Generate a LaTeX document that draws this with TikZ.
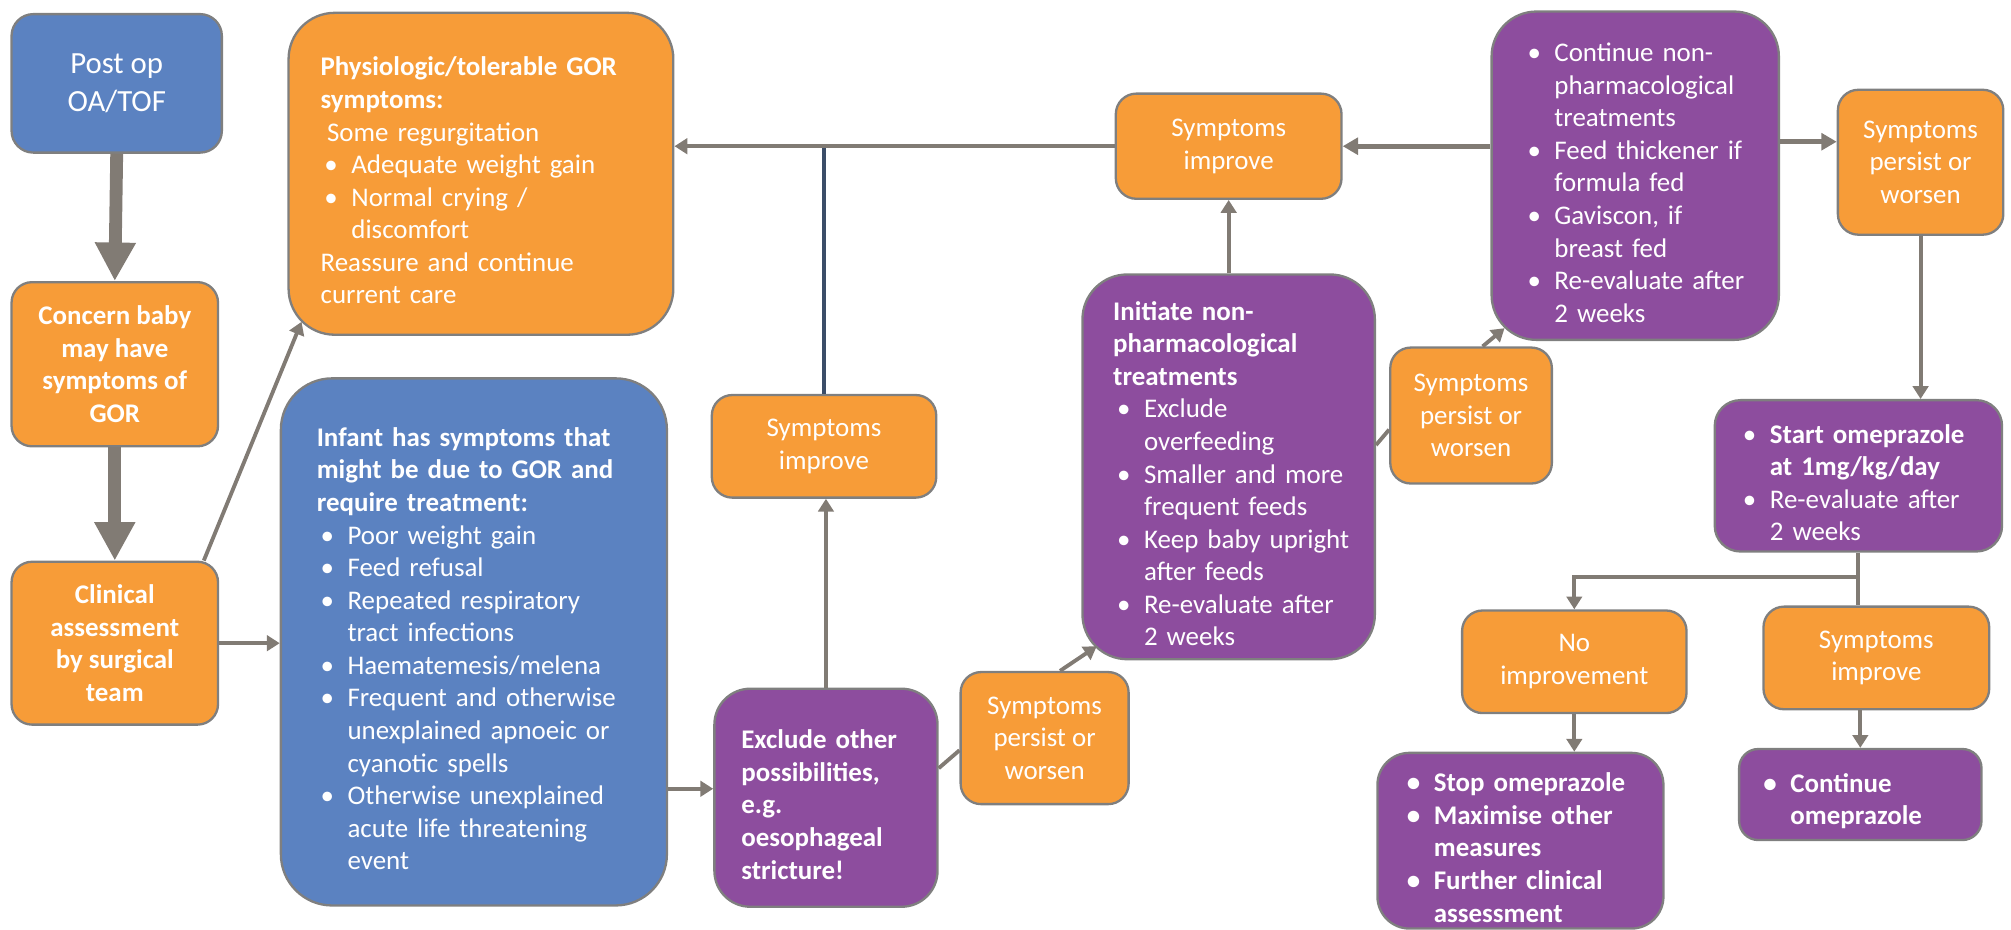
\documentclass[tikz,border=0pt]{standalone}
\usepackage{fontspec}
\setmainfont{Carlito}
\usepackage{xcolor}
\usetikzlibrary{arrows.meta,calc}
\definecolor{gorange}{HTML}{F79C38}
\definecolor{gblue}{HTML}{5B82C1}
\definecolor{gpurple}{HTML}{8D4D9E}
\definecolor{boxgray}{HTML}{7F7F7F}
\definecolor{arrowgray}{HTML}{817B74}
\definecolor{navyline}{HTML}{3B4D68}
\newcommand{\boxfont}{\fontsize{21}{25.4}\selectfont}
\newcommand{\postfont}{\fontsize{24}{29.5}\selectfont}
\newlength{\bulw}\setlength{\bulw}{24pt}
\newcommand{\txtline}[1]{\par\noindent\mbox{#1}}
\newcommand{\bitem}[1]{\par\noindent\makebox[\bulw][l]{\hspace{3pt}\textbullet}\mbox{#1}}
\newcommand{\bcont}[1]{\par\noindent\hspace*{\bulw}\mbox{#1}}
\tikzstyle{flowbox}=[draw=boxgray, line width=1.8pt, text=white, inner sep=3pt, font=\boxfont]
\tikzstyle{orangebox}=[flowbox, fill=gorange, rounded corners=16pt, align=center]
\tikzstyle{bluebox}=[flowbox, fill=gblue]
\tikzstyle{purplebox}=[flowbox, fill=gpurple]
\tikzstyle{listbox}=[align=left, inner ysep=0pt]
\tikzstyle{arr}=[draw=arrowgray, line width=3pt, -{Triangle[length=10pt,width=12pt]}]
\tikzstyle{widearr}=[draw=arrowgray, line width=4pt, -{Triangle[length=12pt,width=13pt]}]
\tikzstyle{bigarr}=[draw=arrowgray, line width=10pt, -{Triangle[length=30pt,width=30pt]}]
\tikzstyle{plain}=[draw=arrowgray, line width=3pt]

\begin{document}
\begin{tikzpicture}[x=1pt, y=-1pt]
\useasboundingbox (0,0) rectangle (1568,725);

% left column
\node[bluebox, align=center, rounded corners=17pt, font=\postfont, minimum width=164pt, minimum height=108pt] (post) at (91,65) {Post op\\OA/TOF};
\node[orangebox, font=\boxfont\bfseries, minimum width=161pt, minimum height=128pt] (concern) at (89.5,284) {Concern baby\\may have\\symptoms of\\GOR};
\node[orangebox, font=\boxfont\bfseries, minimum width=161pt, minimum height=127pt] (clinical) at (89.5,501.5) {Clinical\\assessment\\by surgical\\team};

% small orange boxes
\foreach \n/\x/\y/\w/\h/\t in {
	symimp1/642.5/348/175/80/{Symptoms\\improve},
	persist1/814.5/575.5/131/103/{Symptoms\\persist or\\worsen},
	symimp2/958/114/176/82/{Symptoms\\improve},
	persist2/1147/324/126/106/{Symptoms\\persist or\\worsen},
	persist3/1497.5/126.5/129/113/{Symptoms\\persist or\\worsen},
	noimp/1227.5/516/175/80/{No\\improvement},
	symimp3/1463/513/176/80/{Symptoms\\improve}}{
	\node[orangebox, minimum width=\w pt, minimum height=\h pt] (\n) at (\x,\y) {\t};
	}

% boxes with lists
\node[orangebox, listbox, rounded corners=36pt, minimum height=251pt, text width=250pt, inner xsep=25pt] (physio) at (375,135.5) {%
	\txtline{\bfseries Physiologic/tolerable GOR}
	\txtline{\bfseries symptoms:}
	\txtline{\hspace*{5pt}Some regurgitation}
	\bitem{Adequate weight gain}
	\bitem{Normal crying /}
	\bcont{discomfort}
	\txtline{Reassure and continue}
	\txtline{current care}};
\node[bluebox, listbox, rounded corners=40pt, minimum height=411pt, text width=245pt, inner xsep=28pt] (infant) at (369.5,500.5) {%
	\txtline{\bfseries Infant has symptoms that}
	\txtline{\bfseries might be due to GOR and}
	\txtline{\bfseries require treatment:}
	\bitem{Poor weight gain}
	\bitem{Feed refusal}
	\bitem{Repeated respiratory}
	\bcont{tract infections}
	\bitem{Haematemesis/melena}
	\bitem{Frequent and otherwise}
	\bcont{unexplained apnoeic or}
	\bcont{cyanotic spells}
	\bitem{Otherwise unexplained}
	\bcont{acute life threatening}
	\bcont{event}};
\node[purplebox, listbox, font=\boxfont\bfseries, rounded corners=28pt, minimum height=170pt, text width=132pt, inner xsep=21pt] (exclude) at (644,622) {%
	\txtline{Exclude other}
	\txtline{possibilities,}
	\txtline{e.g.}
	\txtline{oesophageal}
	\txtline{stricture!}};
\node[purplebox, listbox, rounded corners=35pt, minimum height=300pt, text width=180pt, inner xsep=24pt] (initiate) at (958,364) {%
	\txtline{\bfseries Initiate non-}
	\txtline{\bfseries pharmacological}
	\txtline{\bfseries treatments}
	\bitem{Exclude}
	\bcont{overfeeding}
	\bitem{Smaller and more}
	\bcont{frequent feeds}
	\bitem{Keep baby upright}
	\bcont{after feeds}
	\bitem{Re-evaluate after}
	\bcont{2 weeks}};
\node[purplebox, listbox, rounded corners=35pt, minimum height=256pt, text width=174pt, inner xsep=25pt] (cont) at (1275,137) {%
	\bitem{Continue non-}
	\bcont{pharmacological}
	\bcont{treatments}
	\bitem{Feed thickener if}
	\bcont{formula fed}
	\bitem{Gaviscon, if}
	\bcont{breast fed}
	\bitem{Re-evaluate after}
	\bcont{2 weeks}};
\node[purplebox, listbox, rounded corners=20pt, minimum height=118pt, text width=186pt, inner xsep=19pt] (omep) at (1449,371) {%
	\bitem{\bfseries Start omeprazole}
	\bcont{\bfseries at 1mg/kg/day}
	\bitem{Re-evaluate after}
	\bcont{2 weeks}};
\node[purplebox, listbox, font=\boxfont\bfseries, rounded corners=25pt, minimum height=137pt, text width=183pt, inner xsep=20pt] (stop) at (1185.5,655.5) {%
	\bitem{Stop omeprazole}
	\bitem{Maximise other}
	\bcont{measures}
	\bitem{Further clinical}
	\bcont{assessment}};
\node[purplebox, listbox, font=\boxfont\bfseries, rounded corners=15pt, minimum height=71pt, text width=157pt, inner xsep=16pt] (contomep) at (1450.5,619.5) {%
	\bitem{Continue}
	\bcont{omeprazole}};

% connectors
\draw[bigarr] (post.south) -- (concern.north);
\draw[bigarr] (concern.south) -- (clinical.north);
\draw[arr] ($(clinical.north east)+(-12,0)$) -- ($(physio.south west)+(11,-11)$);
\draw[arr] (clinical.east) -- (clinical.east -| infant.west);
\coordinate (exin) at ($(exclude.west)+(0,-7)$);
\draw[arr] (exin -| infant.east) -- (exin);
\draw[arr] (exclude.north) -- (exclude.north |- symimp1.south);
\draw[navyline, line width=2.5pt] (symimp1.north) -- (symimp1.north |- symimp2.west);
\draw[arr] (symimp2.west) -- (symimp2.west -| physio.east);
\draw[plain] ($(exclude.east)+(0,-23)$) -- ($(persist1.west)+(0,9.5)$);
\draw[arr] ($(persist1.north)+(12,0)$) -- ($(initiate.south west)+(12,-11)$);
\draw[arr] (initiate.north) -- (symimp2.south);
\draw[plain] ($(initiate.east)+(0,-17)$) -- ($(persist2.west)+(0,11)$);
\draw[arr] ($(persist2.north)+(9,0)$) -- ($(cont.south west)+(11,-10)$);
\draw[widearr] (cont.west |- symimp2.east) -- (symimp2.east);
\coordinate (pin) at ($(persist3.west)+(0,-16)$);
\draw[widearr] (pin -| cont.east) -- (pin);
\draw[arr] (persist3.south) -- (persist3.south |- omep.north);
\coordinate (split) at ($(omep.south)+(0,19)$);
\draw[plain] (omep.south) -- (split) -- (split |- symimp3.north);
\draw[arr] (split) -| (noimp.north);
\draw[arr] (noimp.south) -- (noimp.south |- stop.north);
\draw[arr] (contomep.north |- symimp3.south) -- (contomep.north);
\end{tikzpicture}
\end{document}
